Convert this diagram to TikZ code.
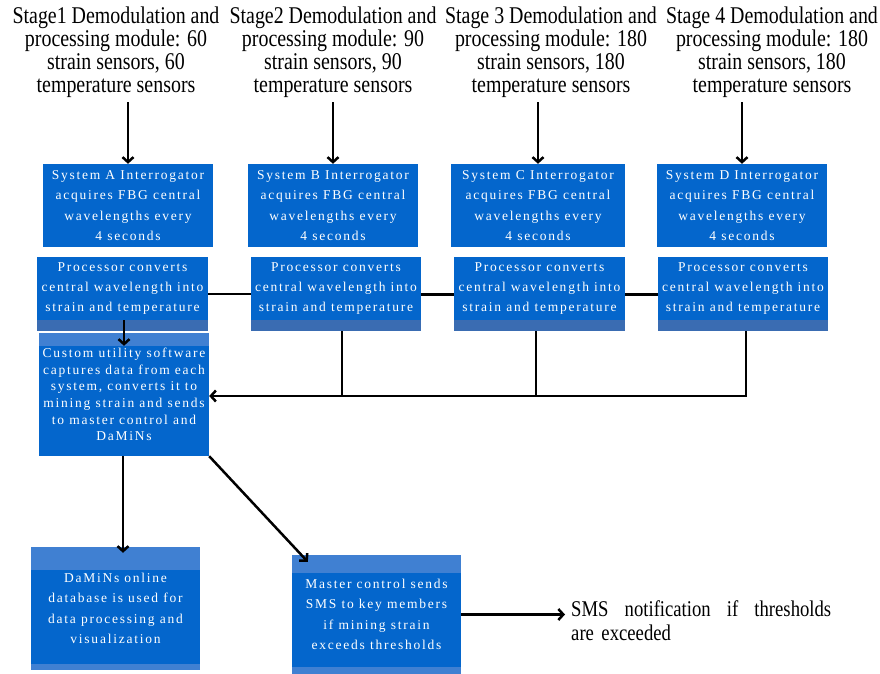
\documentclass[tikz,border=0pt]{standalone}
\usepackage{fontspec}
\setmainfont{Liberation Serif}
\newfontfamily\boxfont{Liberation Serif}[LetterSpace=13]
\newfontfamily\tallfont{Liberation Serif}[FakeStretch=0.83]
\usetikzlibrary{arrows.meta}
\definecolor{boxblue}{RGB}{4,102,204}
\definecolor{stripdark}{RGB}{58,108,178}
\definecolor{striplight}{RGB}{64,128,210}
\tikzset{
  box/.style={fill=boxblue, text=white, align=center, inner sep=0pt,
    font=\boxfont\fontsize{13.5}{20.3}\selectfont},
  stagetext/.style={align=center, inner sep=0pt, font=\tallfont\fontsize{24}{23}\selectfont},
  conn/.style={line width=2.5pt, draw=black},
  arr/.style={conn, -{Straight Barb[length=5pt,width=11pt]}},
  topstrip/.style={path picture={\fill[striplight] (path picture bounding box.north west) rectangle ([yshift=-#1]path picture bounding box.north east);}},
}
\begin{document}
\begin{tikzpicture}[x=1pt,y=-1pt]
\useasboundingbox (0,0) rectangle (880,674);
% stage texts
\node[stagetext] (s1) at (116,52.5) {Stage1 Demodulation and\\processing module: 60\\strain sensors, 60\\temperature sensors};
\node[stagetext] (s2) at (333,52.5) {Stage2 Demodulation and\\processing module: 90\\strain sensors, 90\\temperature sensors};
\node[stagetext] (s3) at (551,52.5) {Stage 3 Demodulation and\\processing module: 180\\strain sensors, 180\\temperature sensors};
\node[stagetext] (s4) at (772,52.5) {Stage 4 Demodulation and\\processing module: 180\\strain sensors, 180\\temperature sensors};
% interrogators
\node[box, minimum width=170pt, minimum height=83pt] (sa) at (128,205.5) {System A Interrogator\\acquires FBG central\\wavelengths every\\4 seconds};
\node[box, minimum width=170pt, minimum height=83pt] (sb) at (333,205.5) {System B Interrogator\\acquires FBG central\\wavelengths every\\4 seconds};
\node[box, minimum width=174pt, minimum height=83pt] (sc) at (538,205.5) {System C Interrogator\\acquires FBG central\\wavelengths every\\4 seconds};
\node[box, minimum width=170pt, minimum height=83pt] (sd) at (742,205.5) {System D Interrogator\\acquires FBG central\\wavelengths every\\4 seconds};
% processors
\foreach \n/\x/\w in {pa/122.5/171, pb/336/170, pc/539.5/171, pd/743/170}{
  \node[box, minimum width=\w pt, minimum height=63pt] (\n) at (\x,288.5) {Processor converts\\central wavelength into\\strain and temperature};
  \fill[stripdark] (\n.south west) rectangle ([yshift=-11pt]\n.south east);
}
% custom utility
\node[box, topstrip=13pt, minimum width=170pt, minimum height=123pt,
  font=\boxfont\fontsize{13.5}{16.6}\selectfont] (cu) at (124,394.5)
  {Custom utility software\\captures data from each\\system, converts it to\\mining strain and sends\\to master control and\\DaMiNs};
% DaMiNs
\node[box, topstrip=23pt, minimum width=169pt, minimum height=123pt] (dm) at (115.5,608.5)
  {DaMiNs online\\database is used for\\data processing and\\visualization};
\fill[striplight] ([yshift=6pt]dm.south west) rectangle (dm.south east);
% master control
\node[box, topstrip=18pt, minimum width=169pt, minimum height=119pt] (mc) at (376.5,614.5)
  {Master control sends\\SMS to key members\\if mining strain\\exceeds thresholds};
\fill[striplight] ([yshift=7pt]mc.south west) rectangle (mc.south east);
% SMS text
\node[anchor=west, inner sep=0pt, text width=260pt, align=left,
  font=\tallfont\fontsize{22.5}{24}\selectfont] (sms) at (571,621) {SMS\hfill notification\hfill if\hfill thresholds\\are exceeded};
% connectors
\draw[arr] ([yshift=-4pt]s1.south -| sa.north) -- (sa.north);
\draw[arr] ([yshift=-4pt]s2.south -| sb.north) -- (sb.north);
\draw[arr] ([yshift=-4pt]s3.south -| sc.north) -- (sc.north);
\draw[arr] ([yshift=-4pt]s4.south -| sd.north) -- (sd.north);
\draw[conn] ([yshift=-5.5pt]pa.east) -- ([yshift=-5.5pt]pb.west);
\draw[conn] ([yshift=-6pt]pb.east) -- ([yshift=-6pt]pc.west);
\draw[conn] ([yshift=-6pt]pc.east) -- ([yshift=-6pt]pd.west);
\draw[arr] (pa.south -| cu.north) -- ([yshift=-13pt]cu.north);
\draw[conn] ([xshift=6pt,yshift=-11pt]pb.south) -- ([xshift=6pt,yshift=-1.5pt]pb.south |- cu.east);
\draw[conn] ([xshift=-3.5pt,yshift=-11pt]pc.south) -- ([xshift=-3.5pt,yshift=-1.5pt]pc.south |- cu.east);
\draw[arr] ([xshift=3pt,yshift=-11pt]pd.south) -- ([xshift=3pt,yshift=-1.5pt]pd.south |- cu.east) -- ([yshift=-1.5pt]cu.east);
\draw[arr] (cu.south -| 123,0) -- ([yshift=-6pt]dm.north -| 123,0);
\draw[arr] (cu.south east) -- ([xshift=16pt,yshift=-7pt]mc.north west);
\draw[arr] (mc.east) -- ([xshift=-6pt]mc.east -| sms.west);
\end{tikzpicture}
\end{document}
